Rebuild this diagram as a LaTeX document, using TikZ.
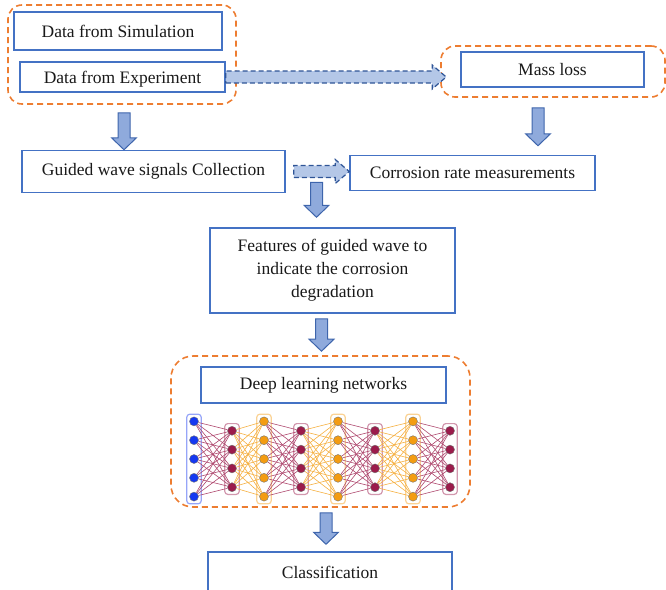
\documentclass[tikz,border=0pt]{standalone}
\usepackage{fontspec}
\setmainfont{Liberation Serif}
\usetikzlibrary{calc,fit,backgrounds}
\definecolor{boxblue}{HTML}{4472C4}
\definecolor{grporange}{HTML}{ED7D31}
\definecolor{arrowfill}{HTML}{8FAADC}
\definecolor{arrowline}{HTML}{3E65AC}
\definecolor{dashfill}{HTML}{B4C7E7}
\definecolor{dashline}{HTML}{2F5597}
\definecolor{nnblue}{HTML}{1538F0}
\definecolor{nnred}{HTML}{9B1B4B}
\definecolor{nnorange}{HTML}{F39C12}
\begin{document}
\begin{tikzpicture}[x=1pt, y=-1pt,
    box/.style={draw=boxblue, line width=1.5pt, fill=white, inner sep=0pt,
        font=\fontsize{17.5}{23}\selectfont, text=black!90},
    group/.style={draw=grporange, line width=1.6pt, dash pattern=on 6pt off 4pt, rounded corners=14pt},
    downarrow/.style={draw=arrowline, fill=arrowfill, line width=1pt,
        to path={let \p1=(\tikztostart), \p2=(\tikztotarget) in
            (\x1-6pt,\y1) -- (\x1+6pt,\y1) -- (\x1+6pt,\y2+12pt) -- (\x1+12.5pt,\y2+12pt)
            -- (\x1,\y2) -- (\x1-12.5pt,\y2+12pt) -- (\x1-6pt,\y2+12pt) -- cycle}},
    dasharrow/.style={draw=dashline, fill=dashfill, line width=1.2pt, dash pattern=on 5pt off 3pt,
        to path={let \p1=(\tikztostart), \p2=(\tikztotarget) in
            (\x1,\y1-6pt) -- (\x2-14pt,\y1-6pt) -- (\x2-14pt,\y1-12pt) -- (\x2,\y1)
            -- (\x2-14pt,\y1+12pt) -- (\x2-14pt,\y1+6pt) -- (\x1,\y1+6pt) -- cycle}},
    neuron/.style={circle, draw=black!55, line width=0.4pt, minimum size=9pt, inner sep=0pt},
    layerbox/.style={draw=#1!45, line width=1.2pt, rounded corners=3pt, inner sep=2.5pt},
    synapse/.style={draw=#1!80, line width=0.6pt}]
    \useasboundingbox (0,0) rectangle (666,589);
    % data sources
    \node[group, minimum width=228pt, minimum height=99pt] (datagrp) at (122,54.5) {};
    \node[box, minimum width=208pt, minimum height=38pt] (sim) at (118,31) {Data from Simulation};
    \node[box, minimum width=205pt, minimum height=30pt, text depth=0pt] (exp) at (122.5,77) {Data from Experiment};
    \node[group, minimum width=224pt, minimum height=51pt] (massgrp) at (553,71.5) {};
    \node[box, minimum width=183pt, minimum height=35pt] (mass) at (552.5,69.5) {Mass loss};
    \node[box, minimum width=263pt, minimum height=42pt] (collect) at (153.5,171.5) {Guided wave signals Collection};
    \node[box, minimum width=245pt, minimum height=35pt] (corr) at (472.5,173) {Corrosion rate measurements};
    \node[box, minimum width=245pt, minimum height=85pt, align=center] (feat) at (332.5,270.5)
        {Features of guided wave to\\indicate the corrosion\\degradation};
    % network
    \node[group, rounded corners=22pt, minimum width=299pt, minimum height=151pt] (dlgrp) at (320.5,431.5) {};
    \node[box, minimum width=245pt, minimum height=36pt] (deep) at (323.5,385) {Deep learning networks};
    \node[box, minimum width=244pt, minimum height=40pt] (classif) at (330,572) {Classification};

    \draw[dasharrow] (exp.east) to ($(massgrp.west |- exp.east)+(6,0)$);
    \draw[dasharrow] ($(collect.east)+(8,0)$) to (corr.west);
    \draw[downarrow] ($(datagrp.south)+(2,8)$) to ($(collect.north -| datagrp.south)+(2,0)$);
    \draw[downarrow] ($(massgrp.south)+(-15,10)$) to ($(corr.north -| massgrp.south)+(-15,-9)$);
    \draw[downarrow] ($(feat.north)+(-16,-45)$) to ($(feat.north)+(-16,-10)$);
    \draw[downarrow] ($(feat.south)+(-11,5)$) to ($(dlgrp.north -| feat.south)+(-11,-4)$);
    \draw[downarrow] ($(dlgrp.south)+(5.5,5)$) to ($(classif.north -| dlgrp.south)+(5.5,-7)$);

    \foreach \lx/\ln/\lc [count=\li] in {194/5/nnblue,232/4/nnred,264/5/nnorange,301/4/nnred,
            338/5/nnorange,375/4/nnred,413/5/nnorange,450/4/nnred}
        \foreach \k in {1,...,\ln}
            \node[neuron, fill=\lc] (n\li-\k) at (\lx,{459+(\k-(\ln+1)/2)*18.8}) {};
    \begin{scope}[on background layer]
        \foreach \ln/\lc [count=\li] in {5/nnblue,4/nnred,5/nnorange,4/nnred,5/nnorange,4/nnred,5/nnorange,4/nnred}
            \node[layerbox=\lc, fit=(n\li-1)(n\li-\ln)] (lbox\li) {};
        \foreach \li/\np/\nq/\sc in {2/5/4/nnred,3/4/5/nnorange,4/5/4/nnred,5/4/5/nnorange,
                6/5/4/nnred,7/4/5/nnorange,8/5/4/nnred} {
            \pgfmathtruncatemacro\lp{\li-1}
            \foreach \a in {1,...,\np}
                \foreach \b in {1,...,\nq}
                    \draw[synapse=\sc] (n\lp-\a) -- (n\li-\b);
        }
    \end{scope}
\end{tikzpicture}
\end{document}
